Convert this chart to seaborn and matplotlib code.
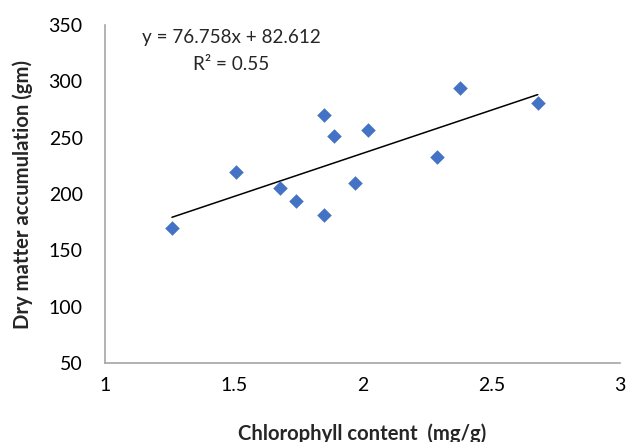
import numpy as np
import pandas as pd
import matplotlib
matplotlib.use("Agg")
import matplotlib.pyplot as plt
import seaborn as sns

# values
chlorophyll = [1.26, 1.51, 1.68, 1.74, 1.85, 1.85, 1.89, 1.97, 2.02, 2.29, 2.38, 2.68]
dry_matter = [170, 220, 205, 194, 181, 270, 252, 210, 257, 233, 294, 281]
slope = 76.758
intercept = 82.612
r_squared = 0.55

sns.set_style("white")
plt.rcParams["font.family"] = ["Lato", "DejaVu Sans"]

df = pd.DataFrame({"chl": chlorophyll, "dm": dry_matter})

fig = plt.figure(figsize=(6.4, 4.42), dpi=100)
ax = fig.add_axes([0.164, 0.179, 0.805, 0.764])

sns.scatterplot(data=df, x="chl", y="dm", marker="D", s=55, color="#4472C4",
                edgecolor="#4472C4", linewidth=0, ax=ax, zorder=3)

# trend line over the data range from the reported equation
xs = np.array([min(chlorophyll), max(chlorophyll)])
sns.lineplot(x=xs, y=slope * xs + intercept, color="black", linewidth=1.1, ax=ax)

ax.text(1.489, 339, "y = %.3fx + %.3f" % (slope, intercept), ha="center", va="center", fontsize=13.6)
ax.text(1.489, 315, "R\u00b2 = %.2f" % r_squared, ha="center", va="center", fontsize=13.6)

ax.set_xlim(1, 3)
ax.set_ylim(50, 350)
ax.set_xticks([1, 1.5, 2, 2.5, 3])
ax.set_xticklabels(["1", "1.5", "2", "2.5", "3"])
ax.set_yticks(range(50, 351, 50))

sns.despine(ax=ax)
for side in ["left", "bottom"]:
    ax.spines[side].set_color("#a6a6a6")
    ax.spines[side].set_linewidth(1.2)
ax.tick_params(axis="both", direction="out", length=5, width=1, color="#a6a6a6",
               labelsize=14, labelcolor="black")
ax.tick_params(axis="x", pad=5)
ax.tick_params(axis="y", pad=11)

ax.set_xlabel("Chlorophyll content  (mg/g)", fontsize=14.6, fontweight="bold", labelpad=21)
ax.set_ylabel("Dry matter accumulation (gm)", fontsize=14.6, fontweight="bold", labelpad=11)

fig.savefig("out.png", dpi=100)
